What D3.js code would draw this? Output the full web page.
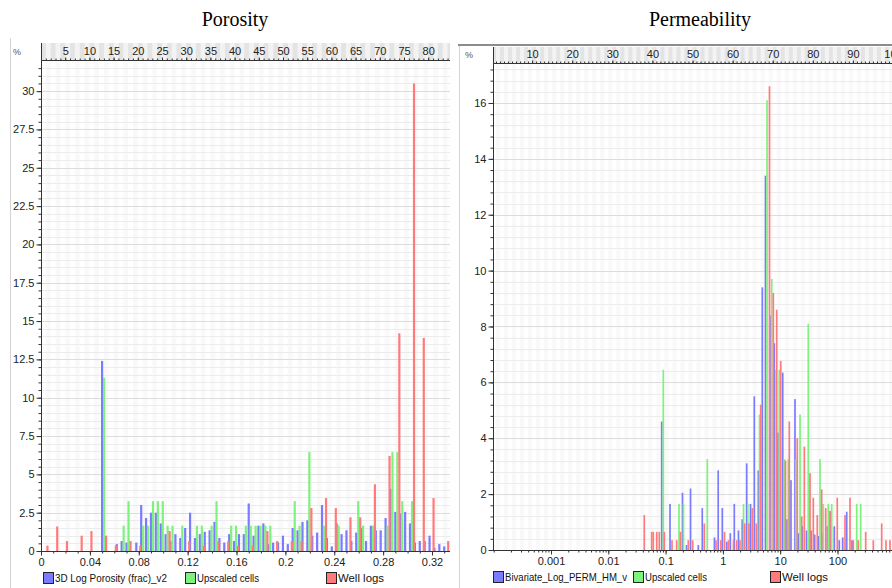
<!DOCTYPE html>
<html>
<head>
<meta charset="utf-8">
<script src="https://cdn.jsdelivr.net/npm/d3@7"></script>
<style>
  body { margin: 0; background: #fff; }
  svg { display: block; font-family: "Liberation Sans", Arial, sans-serif; }
</style>
</head>
<body>
<svg id="chart" width="892" height="588"></svg>
<script>
// ---------- Porosity histogram: [porosity bin, %] ----------
const poroModel = [
  [0.050, 12.4], [0.062, 0.45], [0.066, 0.65], [0.070, 0.55], [0.078, 0.55], [0.082, 3.0],
  [0.086, 2.15], [0.090, 2.5], [0.094, 2.5], [0.098, 1.8], [0.102, 1.1], [0.106, 0.65],
  [0.110, 1.1], [0.114, 0.85], [0.118, 1.5], [0.122, 2.5], [0.126, 0.85], [0.130, 1.1],
  [0.134, 1.25], [0.138, 1.35], [0.142, 1.9], [0.146, 0.85], [0.150, 0.55], [0.154, 1.1],
  [0.158, 0.65], [0.162, 1.1], [0.166, 1.1], [0.170, 3.1], [0.174, 1.0], [0.178, 1.65],
  [0.182, 1.8], [0.186, 0.45], [0.190, 0.55], [0.194, 0.55], [0.198, 1.0], [0.202, 0.45],
  [0.206, 1.5], [0.210, 1.35], [0.214, 1.9], [0.218, 2.0], [0.222, 1.0], [0.226, 1.2],
  [0.230, 3.0], [0.234, 0.85], [0.238, 0.3], [0.242, 1.8], [0.246, 1.1], [0.250, 1.35],
  [0.254, 0.65], [0.258, 1.2], [0.262, 1.5], [0.266, 0.65], [0.270, 1.65], [0.274, 1.35],
  [0.278, 1.35], [0.282, 2.15], [0.286, 4.05], [0.290, 2.55], [0.294, 2.45], [0.298, 2.55],
  [0.302, 1.8], [0.306, 0.55], [0.310, 0.65], [0.314, 0.65], [0.318, 1.0], [0.322, 0.2],
  [0.326, 0.45], [0.330, 0.3]
];
const poroUpscaled = [
  [0.050, 11.3], [0.066, 1.65], [0.070, 3.25], [0.082, 1.65], [0.086, 1.65], [0.090, 3.25],
  [0.094, 3.25], [0.098, 3.25], [0.102, 1.65], [0.106, 1.65], [0.114, 1.65], [0.126, 1.65],
  [0.130, 1.65], [0.138, 1.65], [0.142, 3.25], [0.154, 1.65], [0.158, 1.65], [0.166, 1.65],
  [0.170, 1.65], [0.174, 1.65], [0.178, 1.65], [0.182, 1.65], [0.186, 1.65], [0.206, 3.25],
  [0.210, 1.65], [0.218, 6.45], [0.230, 1.65], [0.242, 1.65], [0.258, 3.25], [0.262, 1.65],
  [0.270, 1.65], [0.282, 1.65], [0.286, 6.45], [0.290, 6.45], [0.294, 3.25], [0.302, 3.25]
];
const poroWells = [
  [0.002, 0.35], [0.010, 1.6], [0.018, 0.65], [0.030, 1.0], [0.038, 1.3], [0.050, 1.0],
  [0.058, 0.35], [0.070, 0.65], [0.078, 0.35], [0.102, 1.3], [0.118, 0.65], [0.130, 0.35],
  [0.142, 0.65], [0.150, 0.65], [0.158, 0.35], [0.170, 0.35], [0.182, 1.3], [0.190, 0.65],
  [0.202, 0.65], [0.210, 0.65], [0.218, 2.8], [0.230, 3.45], [0.238, 2.8], [0.250, 2.2],
  [0.258, 2.2], [0.270, 4.35], [0.282, 6.2], [0.290, 14.2], [0.302, 30.5], [0.310, 13.9],
  [0.318, 3.45], [0.330, 0.65]
];
const poroXTicks = [0, 0.04, 0.08, 0.12, 0.16, 0.2, 0.24, 0.28, 0.32];
const poroYTicks = [0, 2.5, 5, 7.5, 10, 12.5, 15, 17.5, 20, 22.5, 25, 27.5, 30];
const poroTopTicks = [5, 10, 15, 20, 25, 30, 35, 40, 45, 50, 55, 60, 65, 70, 75, 80];

// ---------- Permeability histogram: [log10 mD, %] ----------
const permModel = [
  [-1.068, 4.6], [-0.923, 1.65], [-0.705, 2.05], [-0.635, 0.18], [-0.565, 2.2], [-0.429, 0.18],
  [-0.360, 1.5], [-0.147, 0.45], [-0.082, 2.85], [-0.010, 1.5], [0.068, 0.3], [0.129, 0.6],
  [0.199, 1.65], [0.272, 0.7], [0.337, 1.1], [0.415, 3.1], [0.482, 1.65], [0.548, 5.5],
  [0.618, 2.85], [0.688, 9.4], [0.743, 13.4], [0.822, 8.4], [0.897, 7.4], [0.962, 4.2],
  [1.044, 6.35], [1.119, 1.1], [1.188, 2.5], [1.258, 5.4], [1.316, 0.6], [1.386, 0.85],
  [1.459, 0.7], [1.538, 0.7], [1.602, 0.55], [1.668, 0.5], [1.747, 0.6], [1.822, 0.85],
  [1.881, 1.37], [1.944, 0.85], [2.031, 0.35], [2.091, 0.45], [2.161, 1.37], [2.253, 0.35]
];
const permUpscaled = [
  [-1.040, 6.45], [-0.766, 1.65], [-0.688, 1.65], [-0.272, 3.25], [0.360, 1.65], [0.435, 1.65],
  [0.639, 4.85], [0.770, 16.1], [0.852, 9.7], [0.927, 6.45], [0.984, 6.45], [1.072, 3.25],
  [1.141, 3.25], [1.276, 3.25], [1.346, 4.85], [1.490, 8.1], [1.695, 3.25], [1.752, 1.65],
  [1.839, 1.65], [1.899, 1.65], [2.335, 1.65], [2.405, 1.65]
];
const permWells = [
  [-1.372, 1.25], [-1.243, 0.65], [-1.215, 0.65], [-1.155, 0.65], [-1.110, 0.65], [-1.023, 0.65],
  [-0.888, 0.35], [-0.806, 0.35], [-0.740, 0.65], [-0.604, 0.35], [-0.527, 0.35], [-0.325, 0.95],
  [-0.120, 0.35], [-0.037, 0.35], [0.028, 0.65], [0.098, 0.35], [0.185, 0.35], [0.241, 0.35],
  [0.298, 0.35], [0.380, 0.95], [0.455, 0.95], [0.513, 1.5], [0.583, 0.95], [0.660, 5.2],
  [0.813, 16.6], [0.880, 9.2], [0.939, 8.6], [1.009, 6.77], [1.092, 3.2], [1.159, 4.6],
  [1.298, 4.0], [1.375, 1.2], [1.421, 3.7], [1.520, 2.75], [1.578, 1.87], [1.647, 1.25],
  [1.724, 2.17], [1.794, 1.5], [1.869, 1.4], [1.996, 1.87], [2.131, 1.25], [2.218, 1.87],
  [2.276, 0.35], [2.363, 0.35], [2.492, 0.65], [2.625, 0.35], [2.771, 0.95], [2.846, 0.35],
  [2.916, 0.35]
];
const permXTicks = [0.001, 0.01, 0.1, 1, 10, 100];
const permYTicks = [0, 2, 4, 6, 8, 10, 12, 14, 16];
const permTopTicks = [10, 20, 30, 40, 50, 60, 70, 80, 90, 100];

const colors = { model: "#7b7bff", upscaled: "#7df27d", wells: "#ff7b7b" };

const svg = d3.select("#chart");
const defs = svg.append("defs");

function drawPanel(p) {
  const g = svg.append("g");
  const plotW = p.right - p.left;

  defs.append("clipPath").attr("id", "clip-" + p.id)
    .append("rect")
    .attr("x", p.left).attr("y", p.stripTop)
    .attr("width", plotW).attr("height", p.bottom - p.stripTop);

  const clipped = g.append("g").attr("clip-path", "url(#clip-" + p.id + ")");

  // top strip + faint column bands
  clipped.append("rect")
    .attr("x", p.left).attr("y", p.stripTop)
    .attr("width", plotW).attr("height", p.axisTop - p.stripTop)
    .attr("fill", "#e4e4e4");
  const units = d3.range(0, 100, 1);
  clipped.selectAll(".band").data(units.filter(u => u % 2 === 1)).join("rect")
    .attr("x", u => p.top(u)).attr("width", u => p.top(u + 1) - p.top(u))
    .attr("y", p.stripTop).attr("height", p.axisTop - p.stripTop)
    .attr("fill", "#f3f3f3");
  clipped.selectAll(".pband").data(units.filter(u => u % 2 === 1)).join("rect")
    .attr("x", u => p.top(u)).attr("width", u => p.top(u + 1) - p.top(u))
    .attr("y", p.axisTop).attr("height", p.bottom - p.axisTop)
    .attr("fill", "#f9f9f9");

  // horizontal grid
  const yMax = p.y.domain()[1];
  const gridVals = d3.range(0, yMax, p.yMinor).map(v => +v.toFixed(3));
  clipped.selectAll(".grid").data(gridVals).join("line")
    .attr("x1", p.left).attr("x2", p.right)
    .attr("y1", d => Math.round(p.y(d)) + 0.5).attr("y2", d => Math.round(p.y(d)) + 0.5)
    .attr("stroke", d => (Math.abs(d / p.yMajor - Math.round(d / p.yMajor)) < 1e-6) ? "#dcdcdc" : "#ececec")
    .attr("stroke-width", 1);

  // bars
  p.series.forEach(s => {
    clipped.append("g").selectAll("rect").data(s.data).join("rect")
      .attr("x", d => p.x(p.xv(d[0])) + s.offset - p.barW / 2)
      .attr("width", p.barW)
      .attr("y", d => p.y(d[1]))
      .attr("height", d => p.y(0) - p.y(d[1]))
      .attr("fill", s.color);
  });

  // left axis
  const axisColor = "#333";
  g.append("line")
    .attr("x1", p.left + 0.5).attr("x2", p.left + 0.5)
    .attr("y1", p.stripTop).attr("y2", p.bottom)
    .attr("stroke", axisColor);
  const yMinorAxis = g.append("g").attr("transform", `translate(${p.left + 0.5},0)`)
    .call(d3.axisLeft(p.y).tickValues(gridVals).tickSize(3).tickFormat(""));
  const yAxis = g.append("g").attr("transform", `translate(${p.left + 0.5},0)`)
    .call(d3.axisLeft(p.y).tickValues(p.yTicks).tickSize(5).tickPadding(2).tickFormat(d3.format("~g")));
  [yMinorAxis, yAxis].forEach(a => {
    a.select(".domain").remove();
    a.selectAll("line").attr("stroke", axisColor);
    a.selectAll("text").attr("fill", "#222").style("font-size", "11px");
  });

  // bottom axis
  const xMinorAxis = g.append("g").attr("transform", `translate(0,${p.bottom + 0.5})`)
    .call(d3.axisBottom(p.x).tickValues(p.xMinor).tickSize(2).tickFormat(""));
  const xAxis = g.append("g").attr("transform", `translate(0,${p.bottom + 0.5})`)
    .call(d3.axisBottom(p.x).tickValues(p.xTicks).tickSize(4).tickPadding(3).tickFormat(d3.format("~g")));
  [xMinorAxis, xAxis].forEach(a => {
    a.select(".domain").remove();
    a.selectAll("line").attr("stroke", axisColor);
    a.selectAll("text").attr("fill", "#222").style("font-size", "11px");
  });
  g.append("line")
    .attr("x1", p.left).attr("x2", p.right)
    .attr("y1", p.bottom + 0.5).attr("y2", p.bottom + 0.5)
    .attr("stroke", axisColor);

  // top percentile axis
  const topMinor = d3.range(1, 100, 1).filter(v => p.top(v) < p.right);
  const tMinor = g.append("g").attr("transform", `translate(0,${p.axisTop + 0.5})`)
    .call(d3.axisTop(p.top).tickValues(topMinor).tickSize(2).tickFormat(""));
  const tAxis = g.append("g").attr("transform", `translate(0,${p.axisTop + 0.5})`)
    .call(d3.axisTop(p.top).tickValues(p.topTicks).tickSize(3).tickPadding(3).tickFormat(d3.format("~g")));
  [tMinor, tAxis].forEach(a => {
    a.select(".domain").remove();
    a.selectAll("line").attr("stroke", axisColor);
    a.selectAll("text").attr("fill", "#222").style("font-size", "11px");
  });
  g.append("line")
    .attr("x1", p.left).attr("x2", p.right)
    .attr("y1", p.axisTop + 0.5).attr("y2", p.axisTop + 0.5)
    .attr("stroke", axisColor);

  // percent marker
  g.append("text").attr("x", p.left - 28).attr("y", p.axisTop - 5)
    .attr("fill", "#555").style("font-size", "9px").text("%");

  // title
  svg.append("text").attr("x", p.titleX).attr("y", 26)
    .attr("text-anchor", "middle")
    .style("font-family", "'Liberation Serif', 'Times New Roman', serif")
    .style("font-size", "20px").attr("fill", "#000")
    .text(p.title);

  // legend
  const lg = g.append("g");
  p.series.forEach(s => {
    const item = lg.append("g");
    item.append("text")
      .attr("x", s.legendX + 12).attr("y", p.legendY + 10)
      .attr("fill", "#111").style("font-size", "11px")
      .attr("textLength", s.legendW).attr("lengthAdjust", "spacingAndGlyphs")
      .text(s.name);
    item.append("rect")
      .attr("x", s.legendX + 0.5).attr("y", p.legendY + 0.5)
      .attr("width", 10).attr("height", 11)
      .attr("fill", s.color).attr("stroke", "#222");
  });
}

// panel frames
svg.append("line").attr("x1", 10.5).attr("x2", 10.5).attr("y1", 38).attr("y2", 588)
  .attr("stroke", "#d4d4d4");
svg.append("line").attr("x1", 459.5).attr("x2", 459.5).attr("y1", 45).attr("y2", 588)
  .attr("stroke", "#d4d4d4");
svg.append("line").attr("x1", 458).attr("x2", 892).attr("y1", 45).attr("y2", 45)
  .attr("stroke", "#8c8c8c").attr("stroke-width", 2);

drawPanel({
  id: "poro", title: "Porosity", titleX: 235,
  left: 41, right: 450, stripTop: 43, axisTop: 60, bottom: 551, legendY: 572,
  x: d3.scaleLinear().domain([0, 0.32]).range([41, 432]),
  xv: v => v,
  y: d3.scaleLinear().domain([0, 31.9]).range([551, 62]),
  top: d3.scaleLinear().domain([0, 100]).range([41, 525]),
  yMinor: 0.5, yMajor: 2.5, yTicks: poroYTicks,
  xTicks: poroXTicks, xMinor: d3.range(0, 34).map(i => i / 100),
  topTicks: poroTopTicks,
  barW: 2.2,
  series: [
    { name: "3D Log Porosity (frac)_v2", data: poroModel, color: colors.model, offset: 0, legendX: 43, legendW: 112 },
    { name: "Upscaled cells", data: poroUpscaled, color: colors.upscaled, offset: 2, legendX: 185, legendW: 62 },
    { name: "Well logs", data: poroWells, color: colors.wells, offset: 4, legendX: 326, legendW: 46 }
  ]
});

const permMinor = [];
[-4, -3, -2, -1, 0, 1, 2].forEach(e => {
  for (let m = 1; m <= 9; m++) permMinor.push(m * Math.pow(10, e));
});

drawPanel({
  id: "perm", title: "Permeability", titleX: 700,
  left: 493, right: 892, stripTop: 47, axisTop: 63, bottom: 550, legendY: 571,
  x: d3.scaleLog().domain([1e-4, 1e3]).range([493.7, 894.8]),
  xv: v => Math.pow(10, v),
  y: d3.scaleLinear().domain([0, 17.36]).range([550, 65]),
  top: d3.scaleLinear().domain([0, 100]).range([492, 893]),
  yMinor: 0.4, yMajor: 2, yTicks: permYTicks,
  xTicks: permXTicks, xMinor: permMinor,
  topTicks: permTopTicks,
  barW: 1.7,
  series: [
    { name: "Bivariate_Log_PERM_HM_v", data: permModel, color: colors.model, offset: 0, legendX: 493, legendW: 122 },
    { name: "Upscaled cells", data: permUpscaled, color: colors.upscaled, offset: 0, legendX: 633, legendW: 62 },
    { name: "Well logs", data: permWells, color: colors.wells, offset: 0, legendX: 770, legendW: 46 }
  ]
});
</script>
</body>
</html>
